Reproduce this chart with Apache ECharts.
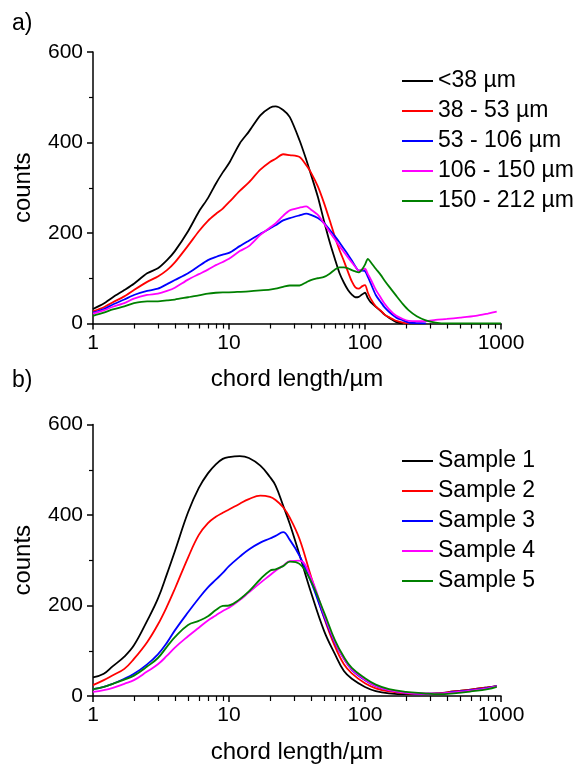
<!DOCTYPE html>
<html>
<head>
<meta charset="utf-8">
<script src="https://cdn.jsdelivr.net/npm/echarts@6/dist/echarts.min.js"></script>
<style>
  html, body { margin: 0; padding: 0; background: #fff; }
  #chart { width: 587px; height: 767px; }
</style>
</head>
<body>
<div id="chart"></div>
<script>
// panel a) – size fractions
const chordA = [1, 1.2, 1.4, 1.7, 2, 2.5, 3, 3.5, 4, 5, 6, 7, 8, 9, 10, 12, 14, 17, 20, 22, 25, 28, 33, 37, 40, 45, 50, 55, 60, 65, 70, 75, 80, 85, 90, 95, 100, 105, 110, 120, 130, 140, 150, 170, 190, 210, 240, 280, 330, 400, 500, 650, 800, 930, 1000];
const fracNames = ["<38 µm", "38 - 53 µm", "53 - 106 µm", "106 - 150 µm", "150 - 212 µm"];
const fracBelow38 = [32, 44, 58, 74, 88, 111, 122, 140, 160, 204, 247, 277, 309, 334, 354, 398, 424, 460, 477, 480, 472, 456, 405, 362, 330, 280, 226, 180, 143, 111, 90, 74, 64, 58, 59, 64, 68, 56, 47, 37, 28, 19, 13, 3, 0];
const frac38to53 = [27, 36, 47, 60, 74, 92, 104, 118, 135, 172, 204, 227, 242, 254, 268, 293, 312, 340, 357, 364, 374, 372, 368, 350, 334, 303, 266, 228, 192, 162, 138, 114, 93, 80, 77, 82, 85, 68, 55, 38, 29, 19, 14, 6, 2, 0];
const frac53to106 = [24, 32, 42, 53, 63, 72, 77, 87, 96, 111, 127, 140, 147, 152, 156, 171, 183, 198, 210, 217, 228, 233, 239, 243, 240, 233, 222, 207, 193, 179, 165, 152, 139, 126, 117, 117, 116, 103, 89, 63, 48, 35, 26, 13, 7, 2, 1, 0];
const frac106to150 = [22, 29, 37, 45, 55, 63, 66, 72, 79, 97, 109, 119, 129, 136, 143, 160, 171, 196, 212, 221, 238, 250, 256, 259, 252, 240, 221, 202, 186, 171, 158, 146, 135, 125, 117, 119, 121, 109, 98, 75, 58, 43, 32, 17, 10, 6, 5, 5, 8, 10, 13, 17, 22, 26];
const frac150to212 = [17, 24, 31, 38, 45, 49, 49, 51, 53, 58, 62, 66, 68, 69, 69, 70, 71, 73, 75, 77, 81, 84, 84, 91, 96, 100, 103, 110, 119, 124, 124, 122, 118, 115, 113, 119, 130, 143, 136, 121, 108, 94, 82, 61, 43, 29, 16, 7, 2, 0, 0, 0, 0, 0, 0];

// panel b) – samples
const chordB = [1, 1.2, 1.4, 1.7, 2, 2.5, 3, 3.5, 4, 5, 6, 7, 8, 9, 10, 12, 14, 17, 20, 22, 25, 28, 33, 40, 50, 60, 70, 80, 100, 120, 150, 200, 270, 350, 450, 600, 800, 930];
const sampleNames = ["Sample 1", "Sample 2", "Sample 3", "Sample 4", "Sample 5"];
const sample1 = [41, 49, 66, 87, 112, 166, 215, 270, 320, 406, 460, 492, 512, 524, 528, 530, 526, 509, 484, 465, 421, 380, 312, 230, 144, 93, 55, 38, 20, 11, 6, 4, 4, 6, 10, 14, 19, 22];
const sample2 = [24, 35, 46, 60, 82, 119, 158, 198, 237, 306, 356, 382, 396, 405, 412, 425, 435, 443, 440, 433, 417, 394, 347, 265, 173, 110, 70, 50, 28, 17, 10, 6, 5, 6, 10, 14, 19, 22];
const sample3 = [15, 20, 27, 38, 49, 70, 92, 118, 145, 185, 216, 240, 257, 272, 287, 308, 324, 339, 348, 354, 362, 345, 310, 253, 175, 118, 82, 58, 35, 22, 13, 7, 5, 5, 9, 13, 18, 22];
const sample4 = [9, 13, 18, 27, 35, 54, 70, 89, 107, 132, 151, 167, 178, 188, 195, 212, 229, 250, 267, 277, 288, 298, 299, 262, 180, 120, 82, 59, 36, 22, 13, 7, 5, 5, 8, 12, 17, 21];
const sample5 = [15, 20, 27, 36, 45, 65, 84, 109, 130, 157, 166, 176, 190, 199, 200, 214, 231, 258, 277, 280, 287, 297, 292, 254, 185, 124, 86, 62, 39, 25, 15, 9, 6, 4, 6, 10, 15, 20];

const lineColors = ["#000000", "#ff0000", "#0000ff", "#ff00ff", "#008000"];
const minorChord = [2, 3, 4, 5, 6, 7, 8, 9, 20, 30, 40, 50, 60, 70, 80, 90, 200, 300, 400, 500, 600, 700, 800, 900];

const chart = echarts.init(document.getElementById("chart"));
const font = "Arial, 'Liberation Sans', sans-serif";
const plotLeft = 93, plotWidth = 408, plotHeight = 271.5;
const topA = 52, topB = 424.5;
const minorLen = 5;
const helperHeight = 8;

function pairs(xs, ys) {
  return ys.map((v, i) => [xs[i], v]);
}

function mainX(gridIndex) {
  return {
    type: "log", logBase: 10, gridIndex, min: 1, max: 1000, position: "bottom",
    name: "chord length/µm", nameLocation: "middle", nameGap: 44,
    nameTextStyle: { fontSize: 24, color: "#000", fontFamily: font },
    axisLine: { lineStyle: { color: "#000", width: 1.5 } },
    axisTick: { length: 6, lineStyle: { color: "#000", width: 1.5 } },
    axisLabel: { fontSize: 21, color: "#000", fontFamily: font, margin: 9, formatter: (v) => String(v) },
    splitLine: { show: false },
  };
}

// log axis of a thin helper grid under each plot; it sits on the helper's zero line
// and its ticks point up, so the 2..9 ticks hang from the main axis line
function minorX(gridIndex) {
  return {
    type: "log", logBase: 10, gridIndex, min: 1, max: 1000, position: "top",
    axisLine: { show: false },
    axisTick: { customValues: minorChord, length: minorLen, lineStyle: { color: "#000", width: 1.2 } },
    axisLabel: { show: false },
    splitLine: { show: false },
  };
}

function yAxis(gridIndex) {
  return {
    type: "value", gridIndex, min: 0, max: 600, interval: 200,
    name: "counts", nameLocation: "middle", nameGap: 58,
    nameTextStyle: { fontSize: 24, color: "#000", fontFamily: font },
    axisLine: { show: true, lineStyle: { color: "#000", width: 1.5 } },
    axisTick: { show: true, length: 6, lineStyle: { color: "#000", width: 1.5 } },
    minorTick: { show: true, splitNumber: 2, length: 4, lineStyle: { color: "#000", width: 1.2 } },
    axisLabel: { fontSize: 21, color: "#000", fontFamily: font, margin: 10 },
    splitLine: { show: false },
  };
}

function hiddenY(gridIndex) {
  return { type: "value", gridIndex, min: 0, max: 1, show: false };
}

function legend(top, names) {
  return {
    data: names, orient: "vertical", left: 397, top,
    icon: "rect", itemWidth: 31, itemHeight: 2, itemGap: 6,
    textStyle: { fontSize: 23, color: "#000", fontFamily: font, lineHeight: 24 },
  };
}

const seriesA = [fracBelow38, frac38to53, frac53to106, frac106to150, frac150to212].map((ys, i) => ({
  name: fracNames[i], type: "line", xAxisIndex: 0, yAxisIndex: 0,
  data: pairs(chordA, ys), symbol: "none", smooth: 0.25,
  lineStyle: { color: lineColors[i], width: 1.8 }, itemStyle: { color: lineColors[i] },
}));

const seriesB = [sample1, sample2, sample3, sample4, sample5].map((ys, i) => ({
  name: sampleNames[i], type: "line", xAxisIndex: 1, yAxisIndex: 1,
  data: pairs(chordB, ys), symbol: "none", smooth: 0.4,
  lineStyle: { color: lineColors[i], width: 1.8 }, itemStyle: { color: lineColors[i] },
}));

chart.setOption({
  animation: false,
  backgroundColor: "#fff",
  grid: [
    { left: plotLeft, top: topA, width: plotWidth, height: plotHeight },
    { left: plotLeft, top: topB, width: plotWidth, height: plotHeight },
    { left: plotLeft, top: topA + plotHeight + minorLen - helperHeight, width: plotWidth, height: helperHeight },
    { left: plotLeft, top: topB + plotHeight + minorLen - helperHeight, width: plotWidth, height: helperHeight },
  ],
  xAxis: [mainX(0), mainX(1), minorX(2), minorX(3)],
  yAxis: [yAxis(0), yAxis(1), hiddenY(2), hiddenY(3)],
  legend: [legend(64, fracNames), legend(444, sampleNames)],
  graphic: [
    { type: "text", left: 12, top: 12, style: { text: "a)", fontSize: 23, fill: "#000", fontFamily: font } },
    { type: "text", left: 12, top: 369, style: { text: "b)", fontSize: 23, fill: "#000", fontFamily: font } },
  ],
  series: seriesA.concat(seriesB),
});
</script>
</body>
</html>
